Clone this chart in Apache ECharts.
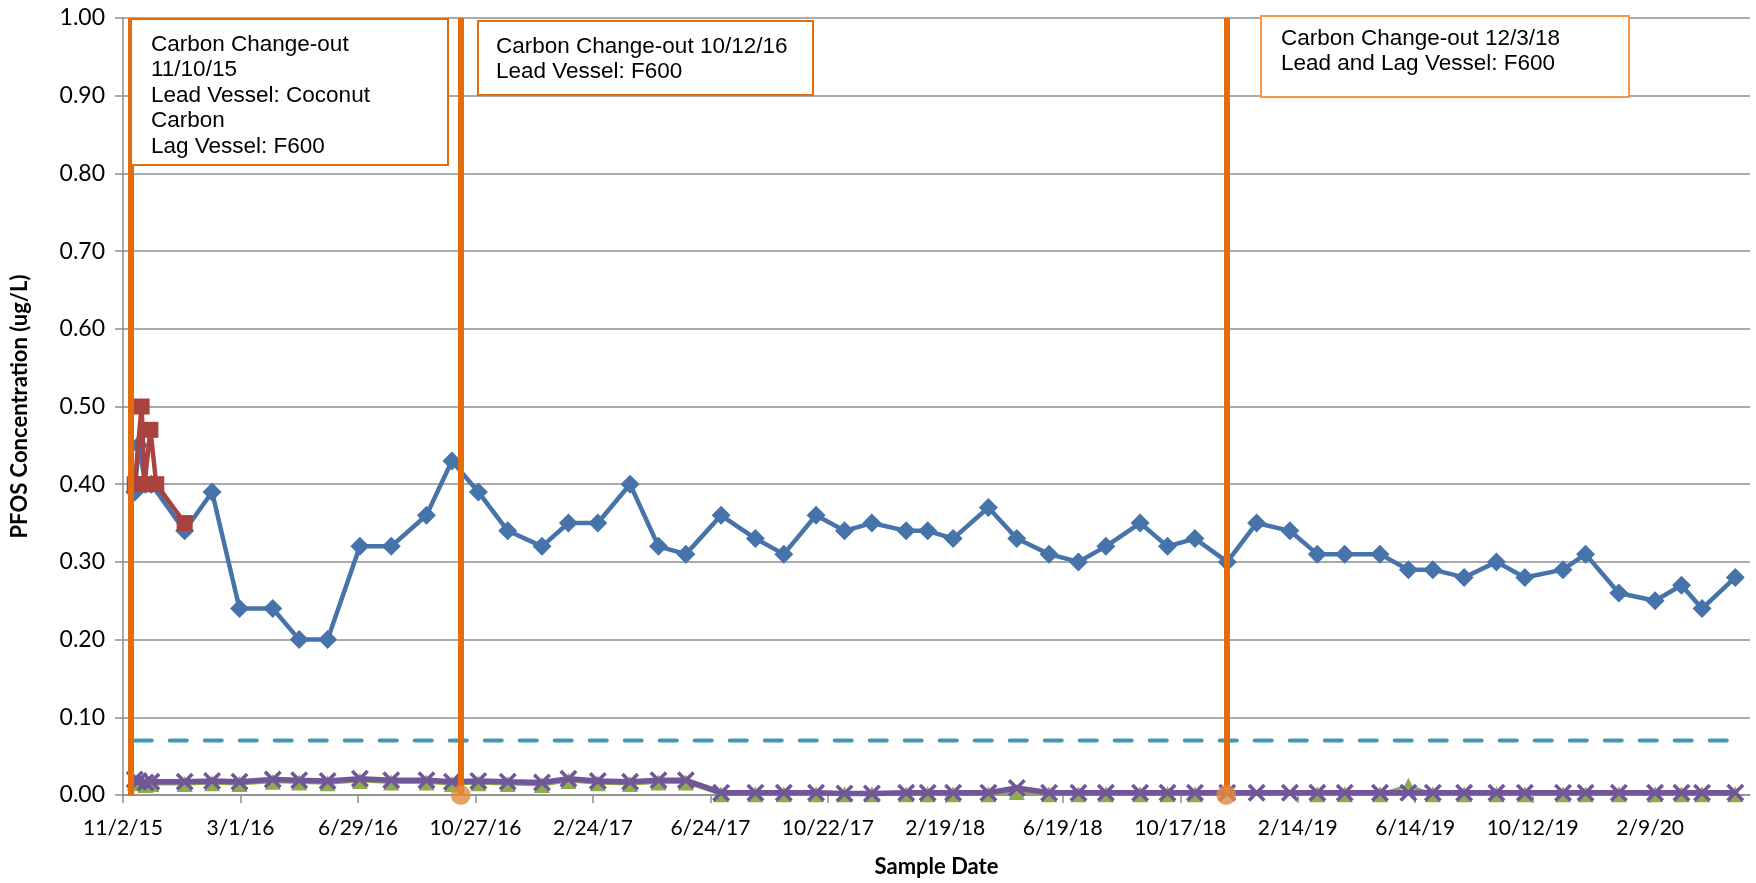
<!DOCTYPE html>
<html lang="en">
<head>
<meta charset="UTF-8">
<title>PFOS Concentration</title>
<script src="https://cdn.jsdelivr.net/npm/echarts@6/dist/echarts.min.js"></script>
<style>
html, body { margin: 0; padding: 0; background: #fff; }
#main { width: 1756px; height: 883px; }
</style>
</head>
<body>
<div id="main"></div>
<script>
// axis range (dates) and tick step in days, as on the source chart
var axisStart = '2015-11-02';
var axisEnd = '2020-05-21';
var tickStepDays = 120;
var tickCount = 14;

// sample dates shared by the main series
var sampleDates = ['2015-11-14', '2015-11-18', '2015-11-25', '2015-12-01', '2016-01-04', '2016-02-01', '2016-02-29',
    '2016-04-03', '2016-04-30', '2016-05-29', '2016-07-01', '2016-08-02', '2016-09-07', '2016-10-03', '2016-10-30',
    '2016-11-29', '2017-01-03', '2017-01-30', '2017-03-01', '2017-04-03', '2017-05-02', '2017-05-30', '2017-07-05',
    '2017-08-09', '2017-09-07', '2017-10-10', '2017-11-08', '2017-12-06', '2018-01-10', '2018-02-01', '2018-02-27',
    '2018-04-04', '2018-05-03', '2018-06-05', '2018-07-05', '2018-08-02', '2018-09-06', '2018-10-04', '2018-11-01',
    '2018-12-04', '2019-01-03', '2019-02-06', '2019-03-06', '2019-04-03', '2019-05-09', '2019-06-07', '2019-07-02',
    '2019-08-03', '2019-09-05', '2019-10-04', '2019-11-12', '2019-12-05', '2020-01-08', '2020-02-14', '2020-03-12',
    '2020-04-02', '2020-05-06'];

// blue diamonds
var influentValues = [0.39, 0.45, 0.40, 0.40, 0.34, 0.39, 0.24, 0.24, 0.20, 0.20, 0.32, 0.32, 0.36, 0.43,
    0.39, 0.34, 0.32, 0.35, 0.35, 0.40, 0.32, 0.31, 0.36, 0.33, 0.31, 0.36, 0.34, 0.35, 0.34, 0.34, 0.33, 0.37,
    0.33, 0.31, 0.30, 0.32, 0.35, 0.32, 0.33,
    0.30, 0.35, 0.34, 0.31, 0.31, 0.31, 0.29, 0.29, 0.28, 0.30, 0.28, 0.29, 0.31, 0.26, 0.25, 0.27, 0.24, 0.28];

// red squares (early samples only)
var dupDates = ['2015-11-14', '2015-11-21', '2015-11-24', '2015-11-30', '2015-12-06', '2016-01-04'];
var dupValues = [0.40, 0.50, 0.40, 0.47, 0.40, 0.35];

// green triangles
var midValues = [0.016, 0.015, 0.013, 0.014, 0.014, 0.015, 0.014, 0.017, 0.016, 0.015, 0.018, 0.016, 0.016, 0.014,
    0.015, 0.014, 0.013, 0.018, 0.015, 0.014, 0.016, 0.016,
    0.001, 0.001, 0.001, 0.001, 0.001, 0.001, 0.001, 0.001, 0.001, 0.001, 0.004, 0.001, 0.001, 0.001, 0.001,
    0.001, 0.001, null, null, null, 0.001, 0.001, 0.001, 0.012, 0.001, 0.001, 0.001, 0.001, 0.001, 0.001,
    0.001, 0.001, 0.001, 0.001, 0.001];

// purple crosses
var effValues = [0.020, 0.018, 0.016, 0.017, 0.017, 0.018, 0.017, 0.020, 0.019, 0.018, 0.021, 0.019, 0.019, 0.017,
    0.018, 0.017, 0.016, 0.021, 0.018, 0.017, 0.019, 0.019,
    0.003, 0.003, 0.003, 0.003, 0.002, 0.002, 0.003, 0.003, 0.003, 0.003, 0.009, 0.003, 0.003, 0.003, 0.003,
    0.003, 0.003, 0.003, 0.003, 0.003, 0.003, 0.003, 0.003, 0.003, 0.003, 0.003, 0.003, 0.003, 0.003, 0.003,
    0.003, 0.003, 0.003, 0.003, 0.003];

// health advisory level (dashed)
var advisoryDates = ['2015-11-14', '2020-05-06'];
var advisoryValue = 0.07;

// carbon change-outs
var changeOutDates = ['2015-11-10', '2016-10-12', '2018-12-03'];
var changeOutMarkers = ['2016-10-12', '2018-12-03'];
var changeOutNotes = [
    'Carbon Change-out\n11/10/15\nLead Vessel: Coconut\nCarbon\nLag Vessel: F600',
    'Carbon Change-out 10/12/16\nLead Vessel: F600',
    'Carbon Change-out 12/3/18\nLead and Lag Vessel: F600'
];

var DAY = 86400000;
var startMs = dateMs(axisStart);

function dateMs(s) {
    var p = s.split('-');
    return Date.UTC(+p[0], +p[1] - 1, +p[2]);
}
function toDay(s) {
    return (dateMs(s) - startMs) / DAY;
}
function pairs(dates, values) {
    var out = [];
    for (var i = 0; i < dates.length; i++) {
        out.push([toDay(dates[i]), values[i] == null ? '-' : values[i]]);
    }
    return out;
}
function dayLabel(v) {
    var d = new Date(startMs + v * DAY);
    return (d.getUTCMonth() + 1) + '/' + d.getUTCDate() + '/' + String(d.getUTCFullYear()).slice(2);
}

var tickDays = [];
for (var t = 0; t < tickCount; t++) tickDays.push(t * tickStepDays);

var gray = '#8e8e8e';
var labelFont = 'Lato';
var xMark = 'path://M0,1.4L1.4,0L5,3.6L8.6,0L10,1.4L6.4,5L10,8.6L8.6,10L5,6.4L1.4,10L0,8.6L3.6,5Z';

var chart = echarts.init(document.getElementById('main'));
var option = {
    animation: false,
    backgroundColor: '#fff',
    grid: { left: 123, right: 6, top: 18, bottom: 88 },
    xAxis: {
        type: 'value',
        min: 0,
        max: toDay(axisEnd),
        interval: tickStepDays,
        name: 'Sample Date',
        nameLocation: 'middle',
        nameGap: 61,
        nameTextStyle: { fontFamily: labelFont, fontWeight: 'bold', fontSize: 22, color: '#000' },
        axisLine: { lineStyle: { color: gray, width: 1.5 } },
        axisTick: { show: true, length: 8, customValues: tickDays, lineStyle: { color: gray, width: 1.5 } },
        axisLabel: {
            customValues: tickDays,
            formatter: dayLabel,
            fontFamily: labelFont,
            fontSize: 21,
            color: '#000',
            margin: 23
        },
        splitLine: { show: false }
    },
    yAxis: {
        type: 'value',
        min: 0,
        max: 1,
        interval: 0.1,
        name: 'PFOS Concentration (ug/L)',
        nameLocation: 'middle',
        nameGap: 92,
        nameTextStyle: { fontFamily: labelFont, fontWeight: 'bold', fontSize: 22, color: '#000' },
        axisLine: { show: true, lineStyle: { color: gray, width: 1.5 } },
        axisTick: { show: true, length: 8, lineStyle: { color: gray, width: 1.5 } },
        axisLabel: {
            formatter: function (v) { return v.toFixed(2); },
            fontFamily: labelFont,
            fontSize: 23,
            color: '#000',
            margin: 18
        },
        splitLine: { lineStyle: { color: gray, width: 1.5 } }
    },
    series: [
        {
            name: 'Health Advisory',
            type: 'line',
            data: pairs(advisoryDates, [advisoryValue, advisoryValue]),
            showSymbol: false,
            lineStyle: { color: '#4198b0', width: 4, type: [17, 18], cap: 'round' },
            z: 2
        },
        {
            name: 'Mid',
            type: 'line',
            data: pairs(sampleDates, midValues),
            symbol: 'triangle',
            symbolSize: 16,
            clip: false,
            itemStyle: { color: '#8bad4b' },
            lineStyle: { color: '#8bad4b', width: 3 },
            z: 3
        },
        {
            name: 'Effluent',
            type: 'line',
            data: pairs(sampleDates, effValues),
            symbol: xMark,
            symbolSize: 18,
            clip: false,
            itemStyle: { color: '#72569a' },
            lineStyle: { color: '#72569a', width: 5.5 },
            z: 4
        },
        {
            name: 'Influent',
            type: 'line',
            data: pairs(sampleDates, influentValues),
            symbol: 'diamond',
            symbolSize: 19,
            itemStyle: { color: '#4673aa' },
            lineStyle: { color: '#4673aa', width: 4.5 },
            z: 5
        },
        {
            name: 'Influent Dup',
            type: 'line',
            data: pairs(dupDates, dupValues),
            symbol: 'rect',
            symbolSize: 16,
            itemStyle: { color: '#aa4240' },
            lineStyle: { color: '#aa4240', width: 4.5 },
            z: 6
        },
        {
            name: 'Change-out',
            type: 'scatter',
            data: changeOutMarkers.map(function (d) { return [toDay(d), 0]; }),
            symbol: 'circle',
            symbolSize: 20,
            clip: false,
            itemStyle: { color: '#e2893f' },
            z: 12,
            markLine: {
                silent: true,
                symbol: 'none',
                label: { show: false },
                lineStyle: { color: '#e46c0a', width: 6, type: 'solid' },
                data: changeOutDates.map(function (d) { return { xAxis: toDay(d) }; }),
                z: 10
            }
        }
    ]
};
chart.setOption(option);

// note boxes next to each change-out line
var noteLayout = [
    { dx: 0, dy: 1, w: 317, h: 146, tx: 20, ty: 13, stroke: '#e46c0a' },
    { dx: 17, dy: 3, w: 335, h: 74, tx: 18, ty: 13, stroke: '#e46c0a' },
    { dx: 35, dy: -2, w: 368, h: 81, tx: 20, ty: 10, stroke: '#f79646' }
];
var graphics = [];
changeOutDates.forEach(function (d, i) {
    var p = chart.convertToPixel({ xAxisIndex: 0, yAxisIndex: 0 }, [toDay(d), 1]);
    var L = noteLayout[i];
    var x = Math.round(p[0] + L.dx);
    var y = Math.round(p[1] + L.dy);
    graphics.push({
        type: 'rect',
        x: x, y: y,
        shape: { x: 0, y: 0, width: L.w, height: L.h },
        style: { fill: '#fff', stroke: L.stroke, lineWidth: 2 },
        z: 100
    });
    graphics.push({
        type: 'text',
        x: x + L.tx, y: y + L.ty,
        style: {
            text: changeOutNotes[i],
            fontFamily: '"Liberation Sans", Arial, sans-serif',
            fontSize: 22.5,
            lineHeight: 25.5,
            fill: '#000'
        },
        z: 101
    });
});
chart.setOption({ graphic: graphics });
</script>
</body>
</html>
